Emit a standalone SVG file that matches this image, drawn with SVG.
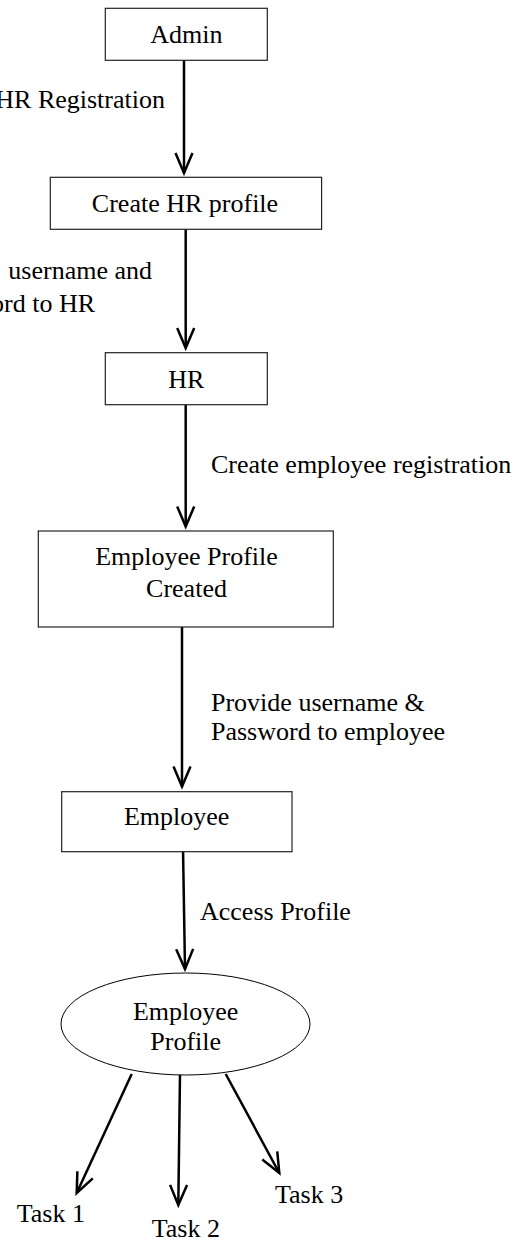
<svg xmlns="http://www.w3.org/2000/svg" width="523" height="1240" viewBox="0 0 523 1240">
<style>
  text { font-family: "Liberation Serif", "Times New Roman", serif; font-size: 26px; fill: #000; }
  .c { text-anchor: middle; }
  .e { text-anchor: end; }
  .box { fill: #fff; stroke: #222; stroke-width: 1.2; }
  .conn { stroke: #000; stroke-width: 2.5; fill: none; }
</style>
<defs>
  <marker id="arr" markerUnits="userSpaceOnUse" markerWidth="26" markerHeight="22" refX="21" refY="10" orient="auto" overflow="visible">
    <path d="M1,1.5 L21,10 L1,18.5" fill="none" stroke="#000" stroke-width="2.5" stroke-linejoin="miter"/>
  </marker>
</defs>
<rect width="523" height="1240" fill="#fff"/>

<g id="connectors">
  <line class="conn" x1="184" y1="60" x2="184" y2="173" marker-end="url(#arr)"/>
  <line class="conn" x1="185.7" y1="229" x2="185.7" y2="348" marker-end="url(#arr)"/>
  <line class="conn" x1="185.7" y1="405" x2="185.7" y2="526.5" marker-end="url(#arr)"/>
  <line class="conn" x1="182" y1="627" x2="182" y2="786.5" marker-end="url(#arr)"/>
  <line class="conn" x1="183" y1="848" x2="185" y2="969" marker-end="url(#arr)"/>
  <line class="conn" x1="131.7" y1="1074" x2="76.7" y2="1193" marker-end="url(#arr)"/>
  <line class="conn" x1="180" y1="1074" x2="178.3" y2="1205" marker-end="url(#arr)"/>
  <line class="conn" x1="225.7" y1="1074" x2="279.3" y2="1173" marker-end="url(#arr)"/>
  <text class="e" x="165" y="108">HR Registration</text>
  <text class="e" x="152" y="279"> username and</text>
  <text class="e" x="95" y="311.5">ord to HR</text>
  <text x="211" y="472.5">Create employee registration</text>
  <text x="211" y="710.5">Provide username &amp;</text>
  <text x="211" y="740">Password to employee</text>
  <text x="200" y="920">Access Profile</text>
</g>

<g id="admin">
  <rect class="box" x="105.3" y="8.3" width="162" height="52"/>
  <text class="c" x="186.3" y="43.3">Admin</text>
</g>
<g id="create-hr-profile">
  <rect class="box" x="50.3" y="177.3" width="271.3" height="52"/>
  <text class="c" x="185" y="211.5">Create HR profile</text>
</g>
<g id="hr">
  <rect class="box" x="105.3" y="352.7" width="162" height="52"/>
  <text class="c" x="186.3" y="387.7">HR</text>
</g>
<g id="employee-profile-created">
  <rect class="box" x="38.3" y="531" width="295" height="96"/>
  <text class="c" x="186.5" y="565">Employee Profile</text>
  <text class="c" x="186.5" y="596.7">Created</text>
</g>
<g id="employee">
  <rect class="box" x="61.7" y="791.7" width="230.3" height="60"/>
  <text class="c" x="176.7" y="825">Employee</text>
</g>
<g id="employee-profile">
  <ellipse cx="185.5" cy="1024" rx="124.5" ry="51" fill="#fff" stroke="#000" stroke-width="1"/>
  <text class="c" x="185.7" y="1020">Employee</text>
  <text class="c" x="185.7" y="1050">Profile</text>
</g>
<g id="task1"><text x="16.7" y="1221.7">Task 1</text></g>
<g id="task2"><text x="151.7" y="1236.7">Task 2</text></g>
<g id="task3"><text x="275" y="1203.3">Task 3</text></g>
</svg>
